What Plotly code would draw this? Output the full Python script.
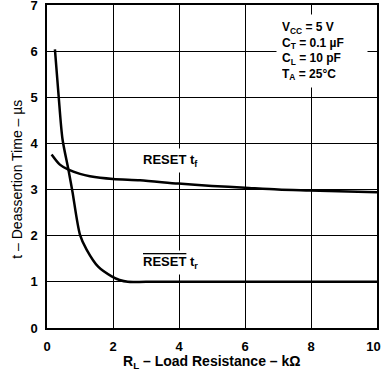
import plotly.graph_objects as go

# RESET t_r (rise) curve
tr_x = [0.24, 0.35, 0.47, 0.65, 0.77, 1.0, 1.2, 1.55, 1.96, 2.2, 2.45, 3.0, 5.0, 10.0]
tr_y = [6.04, 5.05, 4.09, 3.43, 2.96, 2.02, 1.70, 1.33, 1.12, 1.04, 1.0, 1.0, 1.0, 1.0]

# RESET t_f (fall) curve
tf_x = [0.14, 0.39, 0.65, 1.0, 1.3, 2.0, 2.82, 3.98, 5.0, 6.0, 7.0, 7.97, 10.0]
tf_y = [3.76, 3.54, 3.43, 3.34, 3.29, 3.23, 3.20, 3.13, 3.08, 3.04, 3.0, 2.98, 2.94]

x_ticks = [0, 2, 4, 6, 8, 10]
x_tick_labels = ["0", "2", "4", "6", "8", "10\u2007"]
y_ticks = [0, 1, 2, 3, 4, 5, 6, 7]

FONT = "Liberation Sans"

fig = go.Figure()
fig.add_trace(go.Scatter(x=tr_x, y=tr_y, mode="lines", line=dict(color="black", width=2.5, shape="spline", smoothing=0.8), showlegend=False))
fig.add_trace(go.Scatter(x=tf_x, y=tf_y, mode="lines", line=dict(color="black", width=2.5, shape="spline", smoothing=0.8), showlegend=False))

fig.add_annotation(x=2.8, y=3.63, xref="x", yref="y", xanchor="left", yanchor="middle",
                   text="RESET t<sub>f</sub>", showarrow=False, bgcolor="white", borderpad=3,
                   font=dict(family=FONT, size=13, color="black", weight="bold"))
fig.add_annotation(x=2.8, y=1.43, xref="x", yref="y", xanchor="left", yanchor="middle",
                   text="<span style='text-decoration:overline'>RESET</span> t<sub>r</sub>", showarrow=False, bgcolor="white", borderpad=3,
                   font=dict(family=FONT, size=13, color="black", weight="bold"))
fig.add_annotation(x=6.95, y=6.0, xref="x", yref="y", xanchor="left", yanchor="middle",
                   text="V<sub>CC</sub> = 5 V<br>C<sub>T</sub> = 0.1 µF<br>C<sub>L</sub> = 10 pF<br>T<sub>A</sub> = 25°C",
                   align="left", showarrow=False, bgcolor="white", borderpad=5, width=80,
                   font=dict(family=FONT, size=12, color="black", weight="bold"))

# axis titles
fig.add_annotation(x=-0.09, y=0.46, xref="paper", yref="paper", xanchor="center", yanchor="middle",
                   text="t – Deassertion Time – µs", textangle=-90, showarrow=False,
                   font=dict(family=FONT, size=14, color="black", weight="normal"))
fig.add_annotation(x=0.5, y=-0.104, xref="paper", yref="paper", xanchor="center", yanchor="middle",
                   text="R<sub>L</sub> – Load Resistance – kΩ", showarrow=False,
                   font=dict(family=FONT, size=14, color="black", weight="bold"))

fig.update_layout(
    width=382, height=372,
    margin=dict(l=47, r=5, t=5, b=44),
    paper_bgcolor="white", plot_bgcolor="white",
    font=dict(family=FONT, size=13, color="black", weight="bold"),
    xaxis=dict(range=[0, 10], tickvals=x_ticks, ticktext=x_tick_labels, showgrid=True, gridcolor="black", gridwidth=1,
               showline=True, linecolor="black", linewidth=1.5, mirror=True, zeroline=False, ticks="",
               automargin=False, ticklabeloverflow="allow", ticklabelstandoff=6,
               tickfont=dict(family=FONT, size=13, color="black", weight="bold")),
    yaxis=dict(range=[0, 7], tickvals=y_ticks, showgrid=True, gridcolor="black", gridwidth=1,
               showline=True, linecolor="black", linewidth=1.5, mirror=True, zeroline=False, ticks="",
               automargin=False, ticklabeloverflow="allow", ticklabelstandoff=5,
               tickfont=dict(family=FONT, size=13, color="black", weight="bold")),
)

fig.write_html("out.html", config={"displayModeBar": False},
               post_script="document.body.style.margin='0';document.body.style.overflow='hidden';")
